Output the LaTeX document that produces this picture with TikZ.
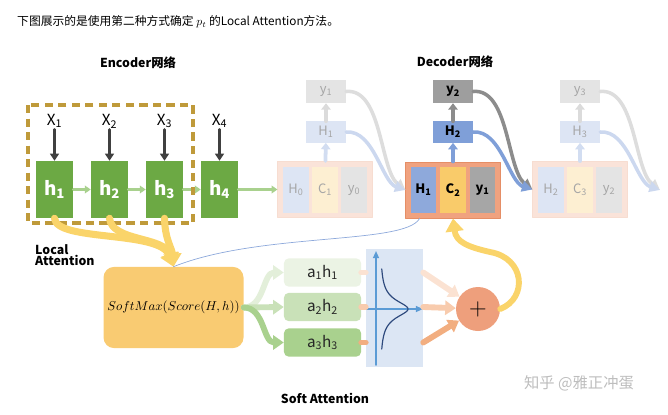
\documentclass[tikz,border=0pt]{standalone}
\usepackage{fontspec}
\setmainfont{Noto Sans CJK SC}
\usepackage{tikz}
\usetikzlibrary{arrows.meta, calc}

\definecolor{encgreen}{HTML}{6CA944}
\definecolor{chaingreen}{HTML}{A9D18E}
\definecolor{darkx}{HTML}{404040}
\definecolor{localgold}{HTML}{BF9A3A}
\definecolor{attyellow}{HTML}{FAD46A}
\definecolor{softorange}{HTML}{F9CB72}
\definecolor{decpeach}{HTML}{F0A27F}
\definecolor{decpeachd}{HTML}{E58E66}
\definecolor{hblue}{HTML}{8EA9DB}
\definecolor{cyellow}{HTML}{F9CB6A}
\definecolor{ygray}{HTML}{A6A6A6}
\definecolor{curvegray}{HTML}{8C8C8C}
\definecolor{curveblue}{HTML}{7F9FD8}
\definecolor{ahone}{HTML}{EBF3E4}
\definecolor{ahtwo}{HTML}{C9E1B8}
\definecolor{ahthree}{HTML}{A9D18E}
\definecolor{arrone}{HTML}{E3EFDA}
\definecolor{panelblue}{HTML}{DCE6F4}
\definecolor{axisblue}{HTML}{5B9BD5}
\definecolor{bellnavy}{HTML}{2E4A7D}
\definecolor{sumsalmon}{HTML}{EE9F7C}
\definecolor{peachone}{HTML}{FBE2D2}
\definecolor{peachtwo}{HTML}{F8CBAD}
\definecolor{peachthree}{HTML}{F2AE80}
\definecolor{markgray}{HTML}{BDBDBD}

\tikzset{
  hbox/.style={fill=encgreen, text=white, font=\fontsize{16}{16}\selectfont\bfseries,
    minimum width=31.5pt, minimum height=48.5pt, inner sep=0pt},
  xlab/.style={font=\fontsize{13}{13}\selectfont, inner sep=1pt},
  decout/.style={fill=decpeach, draw=decpeachd, line width=0.8pt,
    minimum width=80pt, minimum height=47.6pt, inner sep=0pt},
  decin/.style={minimum width=21.3pt, minimum height=39pt, inner sep=0pt,
    font=\fontsize{11}{11}\selectfont},
  hsmall/.style={fill=hblue, minimum width=34pt, minimum height=18pt, inner sep=0pt,
    font=\fontsize{11}{11}\selectfont},
  ysmall/.style={fill=ygray, minimum width=34pt, minimum height=19.5pt, inner sep=0pt,
    font=\fontsize{11}{11}\selectfont},
  faded/.style={text=black!35},
  boldin/.style={font=\fontsize{11}{11}\selectfont\bfseries},
  abox/.style={rounded corners=4pt, minimum width=65.5pt, minimum height=24pt,
    inner sep=0pt, font=\fontsize{13}{13}\selectfont, text=black!85},
  headlab/.style={font=\fontsize{10.5}{10.5}\selectfont\bfseries},
  xarr/.style={draw=darkx, line width=2.3pt, -{Triangle[width=7.5pt,length=6pt]}},
  garr/.style={draw=chaingreen, line width=2.2pt, -{Triangle[width=6.5pt,length=5pt]}},
  yarr/.style={draw=attyellow, line width=6pt, -{Triangle[width=15pt,length=11pt]}},
  uparr/.style={line width=3.2pt, -{Triangle[width=8pt,length=5.5pt]}},
  carr/.style={line width=3pt, -{Triangle[width=9pt,length=9pt]}},
  sarr/.style={line width=5pt, -{Triangle[width=12pt,length=9pt]}},
}

\begin{document}
\begin{tikzpicture}[x=0.85pt, y=-0.85pt, line cap=round, line join=round]
  \useasboundingbox (0,0) rectangle (668,414);

  % titolo
  \node[anchor=west, font=\fontsize{10}{10}\selectfont, inner sep=0pt] (title) at (17,22)
    {下图展示的是使用第二种方式确定 $p_t$ 的Local Attention方法。};
  \node[headlab] (enclab) at (138,63) {Encoder网络};
  \node[headlab] (declab) at (455,62) {Decoder网络};

  % encoder
  \node[hbox] (h1) at (54.5,189.5) {h\textsubscript{1}};
  \node[hbox] (h2) at (109.5,189.5) {h\textsubscript{2}};
  \node[hbox] (h3) at (164.5,189.5) {h\textsubscript{3}};
  \node[hbox] (h4) at (219.5,189.5) {h\textsubscript{4}};
  \node[xlab] (x1) at (54.5,121) {X\textsubscript{1}};
  \node[xlab] (x2) at (109.5,121) {X\textsubscript{2}};
  \node[xlab] (x3) at (164.5,121) {X\textsubscript{3}};
  \node[xlab] (x4) at (219.5,121) {X\textsubscript{4}};
  \draw[xarr] (x1) -- (h1);
  \draw[xarr] (x2) -- (h2);
  \draw[xarr] (x3) -- (h3);
  \draw[xarr] (x4) -- (h4);
  \draw[garr] (h1) -- (h2);
  \draw[garr] (h2) -- (h3);
  \draw[garr] (h3) -- (h4);

  % finestra locale
  \draw[localgold, line width=2.6pt, dash pattern=on 7pt off 4.5pt, line cap=butt]
    (28,105) rectangle (193,223);
  \node[anchor=west, align=left, headlab, inner sep=0pt] (loclab) at (35,255)
    {Local\\[-1pt]Attention};

  % decoder: passo 1 (sbiadito)
  \node[decout, fill=decpeach!30, draw=decpeachd!30] (dec1) at (325,189.5) {};
  \node[decin, faded, fill=hblue!30] (d1a) at (296,190) {H\textsubscript{0}};
  \node[decin, faded, fill=cyellow!30] (d1b) at (325,190) {C\textsubscript{1}};
  \node[decin, faded, fill=ygray!30] (d1c) at (354,190) {y\textsubscript{0}};
  \node[hsmall, faded, fill=hblue!30] (st1) at (326,132) {H\textsubscript{1}};
  \node[ysmall, faded, fill=ygray!30] (out1) at (326,91.5) {y\textsubscript{1}};
  \draw[uparr, hblue!40] (dec1) -- (st1);
  \draw[uparr, ygray!40] (st1) -- (out1);
  \draw[garr] (h4) -- (dec1);

  % decoder: passo 2
  \node[decout] (dec2) at (453,190) {};
  \node[decin, boldin, fill=hblue] (d2a) at (423.5,190) {H\textsubscript{1}};
  \node[decin, boldin, fill=cyellow] (d2b) at (453,190) {C\textsubscript{2}};
  \node[decin, boldin, fill=ygray] (d2c) at (482.5,190) {y\textsubscript{1}};
  \node[hsmall, boldin, fill=curveblue] (st2) at (453,132) {H\textsubscript{2}};
  \node[ysmall, boldin, fill=ygray!95!black] (out2) at (453,91.5) {y\textsubscript{2}};
  \draw[uparr, curveblue] (dec2) -- (st2);
  \draw[uparr, curvegray] (st2) -- (out2);

  % decoder: passo 3 (sbiadito)
  \node[decout, fill=decpeach!30, draw=decpeachd!30] (dec3) at (580,189.5) {};
  \node[decin, faded, fill=hblue!30] (d3a) at (551,190) {H\textsubscript{2}};
  \node[decin, faded, fill=cyellow!30] (d3b) at (580,190) {C\textsubscript{3}};
  \node[decin, faded, fill=ygray!30] (d3c) at (609,190) {y\textsubscript{2}};
  \node[hsmall, faded, fill=hblue!30] (st3) at (580,132) {H\textsubscript{3}};
  \node[ysmall, faded, fill=ygray!30] (out3) at (580,91.5) {y\textsubscript{3}};
  \draw[uparr, hblue!40] (dec3) -- (st3);
  \draw[uparr, ygray!40] (st3) -- (out3);
  \coordinate (next) at (660,190);

  % curve verso il passo successivo
  \draw[carr, curvegray!30] (out1.east) .. controls (382,88) and (380,170) .. (dec2.west);
  \draw[carr, curveblue!40] (st1.east) .. controls (374,130) and (382,182) .. (dec2.west);
  \draw[carr, curvegray] (out2.east) .. controls (509,88) and (507,170) .. (dec3.west);
  \draw[carr, curveblue] (st2.east) .. controls (501,130) and (509,182) .. (dec3.west);
  \draw[carr, curvegray!30] (out3.east) .. controls (636,88) and (634,170) .. (next);
  \draw[carr, curveblue!40] (st3.east) .. controls (628,130) and (636,182) .. (next);

  % softmax e frecce gialle
  \node[fill=softorange, rounded corners=9pt, minimum width=116.5pt, minimum height=69pt,
    font=\fontsize{10.5}{10.5}\selectfont] (soft) at (173.5,307.5) {$SoftMax(Score(H,h))$};
  \draw[yarr] (h1.south) .. controls (56,242) and (160,230) .. (soft.north);
  \draw[yarr] (h2.south) .. controls (112,242) and (165,236) .. (soft.north);
  \draw[yarr] (h3.south) .. controls (165,240) and (172,248) .. (soft.north);
  \draw[hblue, line width=0.6pt] ([xshift=12pt]dec2.south west)
    .. controls (405,245) and (260,232) .. (soft.north);

  % pesi a_i h_i
  \node[abox, fill=ahone] (ah1) at (322.5,272.5) {a\textsubscript{1}h\textsubscript{1}};
  \node[abox, fill=ahtwo] (ah2) at (322.5,307) {a\textsubscript{2}h\textsubscript{2}};
  \node[abox, fill=ahthree] (ah3) at (322.5,342.5) {a\textsubscript{3}h\textsubscript{3}};
  \draw[sarr, arrone] (soft.east) to[out=0, in=180] (ah1.west);
  \draw[sarr, ahtwo] (soft.east) -- (ah2.west);
  \draw[sarr, ahthree] (soft.east) to[out=0, in=180] (ah3.west);

  % distribuzione
  \node[fill=panelblue, minimum width=48.5pt, minimum height=100pt, inner sep=0pt] (panel) at (394.5,308) {};
  \draw[axisblue, line width=1.3pt, -{Triangle[width=5pt,length=6pt]}] (376,365) -- (376,251);
  \draw[axisblue, line width=1.3pt, -{Triangle[width=5pt,length=6pt]}] (366,309) -- (423,309);
  \draw[bellnavy, line width=1pt] plot[domain=-40:40, samples=81, smooth]
    ({380+28/(1+(\x/10.4)^2)}, {309+\x});

  % somma
  \node[circle, fill=sumsalmon, minimum size=37.4pt, inner sep=0pt,
    font=\fontsize{20}{20}\selectfont] (sum) at (478,309) {$+$};
  \draw[line width=5pt, peachone] (ah1.east) -- (ah1.east -| panel.west);
  \draw[line width=5pt, peachtwo] (ah2.east) -- (ah2.east -| panel.west);
  \draw[line width=5pt, peachthree] (ah3.east) -- (ah3.east -| panel.west);
  \draw[sarr, peachone] (panel.east |- ah1.east) -- (sum);
  \draw[sarr, peachtwo] (panel.east |- ah2.east) -- (sum);
  \draw[sarr, peachthree] (panel.east |- ah3.east) -- (sum);
  \draw[yarr, line width=5pt] (sum.east) .. controls (528,298) and (525,258) .. (490,252)
    .. controls (468,247) and (456,242) .. (dec2.south);

  % etichette
  \node[headlab] (softlab) at (325,398) {Soft Attention};
  \node[text=markgray, font=\fontsize{13}{13}\selectfont] (mark) at (579,383) {知乎 @雅正冲蛋};
\end{tikzpicture}
\end{document}
